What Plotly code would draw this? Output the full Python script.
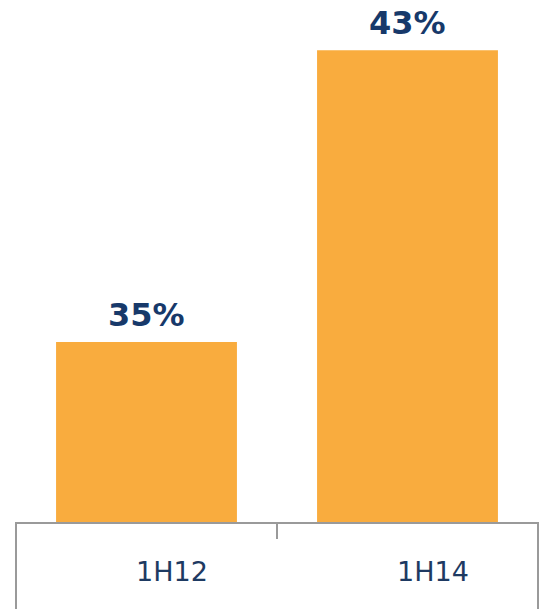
import plotly.graph_objects as go

categories = ["1H12", "1H14"]
values = [35, 43]
value_labels = ["35%", "43%"]

bar_color = "#F9AC3E"
value_color = "#17396A"
cat_color = "#1E3A62"
line_color = "#9A9A9A"

fig = go.Figure()
fig.add_trace(go.Bar(
    x=categories, y=values, marker=dict(color=bar_color, line=dict(width=0)),
    hoverinfo="skip", showlegend=False,
))

# value labels above bars
for c, v, t in zip(categories, values, value_labels):
    fig.add_annotation(x=c, y=v, text=f"<b>{t}</b>", showarrow=False,
                       yanchor="bottom", yshift=6,
                       font=dict(family="DejaVu Sans", size=32, color=value_color))

# category labels in the table below the axis
for c in categories:
    fig.add_annotation(x=c, y=0, yref="paper", text=c, showarrow=False,
                       yanchor="middle", yshift=-49, xshift=25,
                       font=dict(family="DejaVu Sans", size=27, color=cat_color))

# table borders
fig.add_shape(type="line", xref="paper", yref="paper", x0=0, x1=0, y0=0, y1=-0.2,
              line=dict(color=line_color, width=2))
fig.add_shape(type="line", xref="paper", yref="paper", x0=1, x1=1, y0=0, y1=-0.2,
              line=dict(color=line_color, width=2))

fig.update_layout(
    width=540, height=609,
    margin=dict(l=16, r=2, t=10, b=87),
    plot_bgcolor="white", paper_bgcolor="white",
    bargap=0.307,
    xaxis=dict(range=[-0.5, 1.5], showticklabels=False, showline=True,
               linecolor=line_color, linewidth=2, ticks="outside",
               tickson="boundaries", ticklen=15, tickcolor=line_color,
               tickwidth=1.5, showgrid=False, zeroline=False, fixedrange=True),
    yaxis=dict(range=[30.07, 44.10], visible=False, showgrid=False,
               zeroline=False, fixedrange=True),
)

fig.write_html("out.html", config={"displayModeBar": False},
               post_script="document.body.style.margin='0';document.body.style.overflow='hidden';")
